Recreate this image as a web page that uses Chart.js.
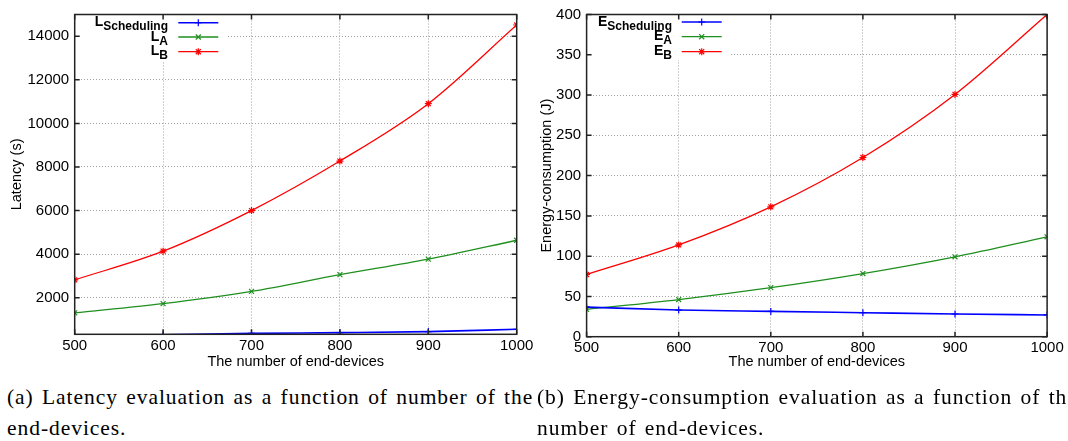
<!DOCTYPE html>
<html lang="en">
<head>
<meta charset="UTF-8">
<title>Latency and energy-consumption evaluation</title>
<script src="https://cdn.jsdelivr.net/npm/chart.js"></script>
<style>
body {
    margin: 0;
    background: #fff;
    width: 1068px;
    height: 441px;
    overflow: hidden;
    position: relative;
}
.panel {
    position: absolute;
    top: 0;
}
.caption {
    position: absolute;
    font-family: 'Liberation Serif', serif;
    font-size: 21.5px;
    letter-spacing: 0.95px;
    word-spacing: 2px;
    line-height: 30.6px;
    white-space: nowrap;
    color: #000;
}
</style>
</head>
<body>
<div class="panel" style="left:0;width:545px;height:372px;">
    <canvas id="latencyChart" width="545" height="372"></canvas>
</div>
<div class="panel" style="left:530px;width:538px;height:372px;">
    <canvas id="energyChart" width="538" height="372"></canvas>
</div>
<div class="caption" style="left:7px;top:382px;">(a) Latency evaluation as a function of number of the<br>end-devices.</div>
<div class="caption" style="left:537px;top:382px;">(b) Energy-consumption evaluation as a function of the<br>number of end-devices.</div>

<script>
// values
const devices = [500, 600, 700, 800, 900, 1000];

const latencySched = [230, 296, 364, 395, 443, 549];
const latencyA = [1305, 1728, 2290, 3059, 3771, 4637];
const latencyB = [2818, 4136, 6000, 8272, 10905, 14519];

const energySched = [36.7, 33.1, 31.4, 29.8, 28.2, 27.0];
const energyA = [33.9, 46.1, 60.9, 78.4, 99.2, 124.0];
const energyB = [77.2, 113.9, 161.2, 222.5, 300.8, 400];

const xTicks = [500, 600, 700, 800, 900, 1000];
const latencyTicks = [2000, 4000, 6000, 8000, 10000, 12000, 14000];
const energyTicks = [0, 50, 100, 150, 200, 250, 300, 350, 400];

const latencyKeyMain = ['L', 'L', 'L'];
const energyKeyMain = ['E', 'E', 'E'];
const keySub = ['Scheduling', 'A', 'B'];

const BLUE = '#0000ff';
const GREEN = '#1f8f1f';
const RED = '#ff0000';

function pts(vals) {
    return devices.map((x, i) => ({ x: x, y: vals[i] }));
}

function makeSets(sched, a, b) {
    const common = { pointRadius: 3.5, pointBorderWidth: 1.2, borderWidth: 1.3, cubicInterpolationMode: 'monotone', fill: false };
    return [
        Object.assign({ data: pts(sched), borderColor: BLUE, backgroundColor: BLUE, pointStyle: 'cross' }, common, { borderWidth: 1.6 }),
        Object.assign({ data: pts(a), borderColor: GREEN, backgroundColor: GREEN, pointStyle: 'crossRot' }, common),
        Object.assign({ data: pts(b), borderColor: RED, backgroundColor: RED, pointStyle: 'star' }, common)
    ];
}

function marker(ctx, style, x, y, r) {
    ctx.beginPath();
    if (style === 'cross' || style === 'star') {
        ctx.moveTo(x - r, y); ctx.lineTo(x + r, y);
        ctx.moveTo(x, y - r); ctx.lineTo(x, y + r);
    }
    if (style === 'crossRot' || style === 'star') {
        const d = r * 0.72;
        ctx.moveTo(x - d, y - d); ctx.lineTo(x + d, y + d);
        ctx.moveTo(x - d, y + d); ctx.lineTo(x + d, y - d);
    }
    ctx.stroke();
}

// gnuplot style key, frame and inward ticks
const gpPlugin = {
    id: 'gp',
    beforeDatasetsDraw(chart, args, o) {
        const ctx = chart.ctx;
        const a = chart.chartArea;
        ctx.save();
        ctx.fillStyle = '#fff';
        ctx.fillRect(a.left + 1, a.top + 1, o.boxRight - a.left - 1, o.boxBottom - a.top - 1);
        chart.data.datasets.forEach((ds, i) => {
            const y = o.rows[i];
            // label, right aligned, with subscript
            ctx.fillStyle = '#000';
            ctx.textBaseline = 'alphabetic';
            ctx.textAlign = 'right';
            ctx.font = 'bold 12px "Liberation Sans", Arial, sans-serif';
            const subW = ctx.measureText(o.sub[i]).width;
            ctx.fillText(o.sub[i], o.textRight, y + 7.7);
            ctx.font = 'bold 14px "Liberation Sans", Arial, sans-serif';
            ctx.fillText(o.main[i], o.textRight - subW, y + 3.7);
            // sample
            ctx.strokeStyle = ds.borderColor;
            ctx.lineWidth = ds.borderWidth;
            ctx.beginPath();
            ctx.moveTo(o.sampleLeft, y);
            ctx.lineTo(o.sampleRight, y);
            ctx.stroke();
            ctx.lineWidth = 1.2;
            marker(ctx, ds.pointStyle, (o.sampleLeft + o.sampleRight) / 2, y, 3.5);
        });
        ctx.restore();
    },
    afterDatasetsDraw(chart) {
        const ctx = chart.ctx;
        const a = chart.chartArea;
        const xs = chart.scales.x, ys = chart.scales.y;
        ctx.save();
        ctx.strokeStyle = '#222';
        ctx.lineWidth = 1.5;
        ctx.beginPath();
        xs.ticks.forEach(t => {
            const px = xs.getPixelForValue(t.value);
            ctx.moveTo(px, a.bottom); ctx.lineTo(px, a.bottom - 5);
            ctx.moveTo(px, a.top); ctx.lineTo(px, a.top + 5);
        });
        ys.ticks.forEach(t => {
            const py = ys.getPixelForValue(t.value);
            ctx.moveTo(a.left, py); ctx.lineTo(a.left + 5, py);
            ctx.moveTo(a.right, py); ctx.lineTo(a.right - 5, py);
        });
        ctx.stroke();
        ctx.strokeRect(a.left, a.top, a.right - a.left, a.bottom - a.top);
        ctx.restore();
    }
};

function makeChart(id, sets, yMin, yMax, yTicks, yTitle, dims, key) {
    const tickFont = { family: "'Liberation Sans', Arial, sans-serif", size: 15 };
    const titleFont = { family: "'Liberation Sans', Arial, sans-serif", size: 14.5 };
    return new Chart(document.getElementById(id), {
        type: 'line',
        data: { datasets: sets },
        options: {
            responsive: false,
            animation: false,
            devicePixelRatio: 1,
            layout: { padding: { left: 0, top: 10, right: dims.padRight, bottom: 0 } },
            plugins: {
                legend: { display: false },
                tooltip: { enabled: false },
                gp: key
            },
            scales: {
                x: {
                    type: 'linear',
                    min: 500,
                    max: 1000,
                    afterBuildTicks: s => { s.ticks = xTicks.map(v => ({ value: v })); },
                    afterFit: s => { s.height = dims.xHeight; },
                    grid: { color: '#a0a0a0', lineWidth: 1, drawTicks: false },
                    border: { display: false, dash: [1, 2] },
                    ticks: { color: '#000', font: tickFont, padding: dims.xPad, maxRotation: 0, autoSkip: false, callback: v => String(v) },
                    title: { display: true, text: 'The number of end-devices', color: '#000', font: titleFont, padding: { top: 0, bottom: 1 } }
                },
                y: {
                    type: 'linear',
                    min: yMin,
                    max: yMax,
                    afterBuildTicks: s => { s.ticks = yTicks.map(v => ({ value: v })); },
                    afterFit: s => { s.width = dims.yWidth; },
                    grid: { color: '#a0a0a0', lineWidth: 1, drawTicks: false },
                    border: { display: false, dash: [1, 2] },
                    ticks: { color: '#000', font: tickFont, padding: 5.5, autoSkip: false, callback: v => String(v) },
                    title: { display: true, text: yTitle, color: '#000', font: titleFont, padding: { top: 8.3, bottom: 0 } }
                }
            }
        },
        plugins: [gpPlugin]
    });
}

makeChart('latencyChart', makeSets(latencySched, latencyA, latencyB), 320, 15000, latencyTicks, 'Latency (s)',
    { padRight: 28.3, xHeight: 37.7, yWidth: 74.7, xPad: 3 },
    { main: latencyKeyMain, sub: keySub, rows: [22.7, 37, 51.7], textRight: 168, sampleLeft: 178.3, sampleRight: 218.3, boxRight: 227, boxBottom: 61 });

makeChart('energyChart', makeSets(energySched, energyA, energyB), 0, 400, energyTicks, 'Energy-consumption (J)',
    { padRight: 20.9, xHeight: 35.3, yWidth: 56.6, xPad: 2 },
    { main: energyKeyMain, sub: keySub, rows: [22, 36.7, 51.7], textRight: 142, sampleLeft: 151.7, sampleRight: 191.7, boxRight: 201, boxBottom: 60 });
</script>
</body>
</html>
